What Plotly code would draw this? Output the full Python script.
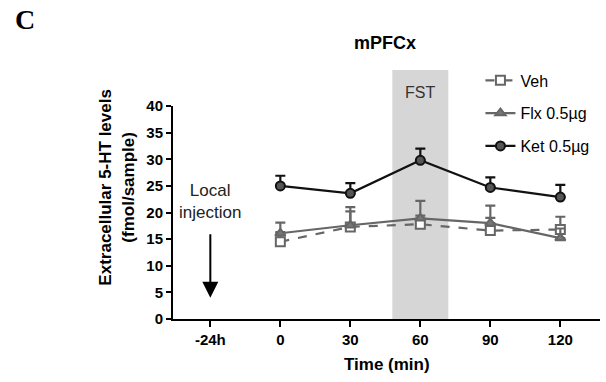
import plotly.graph_objects as go

times = [0, 30, 60, 90, 120]
tick_vals = [-30, 0, 30, 60, 90, 120]
tick_text = ["-24h", "0", "30", "60", "90", "120"]

veh = [14.5, 17.3, 17.8, 16.6, 16.8]
veh_err = [1.8, 2.9, 1.6, 2.4, 2.4]
flx = [16.1, 17.6, 18.9, 18.0, 15.2]
flx_err = [2.0, 3.4, 3.3, 3.3, 1.8]
ket = [25.0, 23.6, 29.8, 24.7, 22.9]
ket_err = [1.9, 1.9, 2.2, 1.9, 2.3]

FONT = "Liberation Sans, Arial, sans-serif"

fig = go.Figure()

def add(name, y, err, color, symbol, dash, mfill, group):
    fig.add_trace(go.Scatter(
        x=times, y=y, name=name, mode="lines+markers",
        legendgroup=group,
        line=dict(color=color, width=2.2, dash=dash),
        marker=dict(symbol=symbol, size=9, color=mfill,
                    line=dict(color=color, width=2)),
        error_y=dict(type="data", array=err, arrayminus=[0]*len(err),
                     symmetric=False, color=color, thickness=2.2, width=5),
        cliponaxis=False,
    ))

add("Veh", veh, veh_err, "#666666", "square", "dash", "white", "a")
add("Flx 0.5µg", flx, flx_err, "#666666", "triangle-up", "solid", "#777777", "b")
add("Ket 0.5µg", ket, ket_err, "#111111", "circle", "solid", "#555555", "c")

# FST band
fig.add_shape(type="rect", xref="x", yref="paper", x0=48, x1=72, y0=0, y1=1.169,
              fillcolor="#d6d6d6", line=dict(width=0), layer="below")

fig.add_annotation(x=60, y=1.113, xref="x", yref="paper", text="FST", showarrow=False,
                   xanchor="center", font=dict(family=FONT, size=16, color="#333333"))

fig.add_annotation(x=-30, y=22.1, xref="x", yref="y", text="Local<br>injection",
                   showarrow=False, xanchor="center",
                   font=dict(family=FONT, size=17, color="#222222"))
fig.add_annotation(x=-30, y=4.0, ax=-30, ay=16.2, xref="x", yref="y", axref="x", ayref="y",
                   text="", showarrow=True, arrowhead=2, arrowsize=1.6, arrowwidth=2,
                   arrowcolor="#000000")

fig.add_annotation(x=0.497, y=1.295, xref="paper", yref="paper", text="<b>mPFCx</b>",
                   showarrow=False, xanchor="center", yanchor="middle",
                   font=dict(family=FONT, size=18, color="#000000"))

fig.add_annotation(x=-0.131, y=0.617, xref="paper", yref="paper",
                   text="<b>Extracellular 5-HT levels<br>(fmol/sample)</b>", textangle=-90,
                   showarrow=False, xanchor="center", yanchor="middle",
                   font=dict(family=FONT, size=17, color="#000000"))

fig.add_annotation(x=-0.347, y=1.404, xref="paper", yref="paper", text="<b>C</b>",
                   showarrow=False, xanchor="center", yanchor="middle",
                   font=dict(family="Liberation Serif, Times New Roman, serif",
                             size=28, color="#000000"))

fig.add_annotation(x=0.5, y=-0.215, xref="paper", yref="paper", text="<b>Time (min)</b>",
                   showarrow=False, xanchor="center", yanchor="middle",
                   font=dict(family=FONT, size=17, color="#000000"))

fig.update_layout(
    width=606, height=382,
    margin=dict(l=173, r=6, t=106, b=63),
    plot_bgcolor="white", paper_bgcolor="white",
    font=dict(family=FONT, color="#000000"),
    showlegend=True,
    legend=dict(x=0.72, y=1.2, xanchor="left", yanchor="top",
                bgcolor="rgba(0,0,0,0)", traceorder="grouped", tracegroupgap=9,
                font=dict(family=FONT, size=16, color="#000000"), itemwidth=30),
    xaxis=dict(range=[-46, 137], tickvals=tick_vals, ticktext=tick_text,
               showgrid=False, zeroline=False, showline=True, linecolor="black",
               linewidth=2, ticks="outside", ticklen=6, tickwidth=2, tickcolor="black",
               tickfont=dict(family=FONT, size=15, color="#000000", weight="bold")),
    yaxis=dict(range=[0, 40], tickvals=list(range(0, 45, 5)), showgrid=False,
               zeroline=False, showline=True, linecolor="black", linewidth=2,
               ticks="outside", ticklen=5, tickwidth=2, tickcolor="black",
               tickfont=dict(family=FONT, size=15, color="#000000", weight="bold")),
)

fig.write_html("out.html")
